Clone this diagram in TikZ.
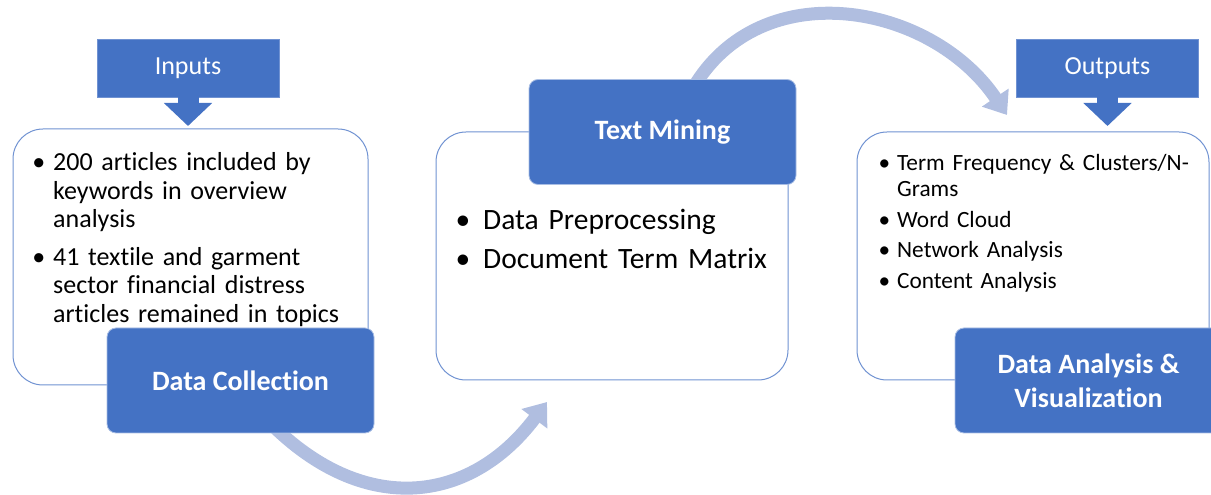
\documentclass[tikz,border=0pt]{standalone}
\usepackage{fontspec}
\setmainfont{Carlito}[Ligatures=NoCommon]
\usetikzlibrary{arrows.meta,backgrounds}
\definecolor{boxblue}{RGB}{68,114,196}
\definecolor{edgeblue}{RGB}{112,146,210}
\definecolor{arcblue}{RGB}{176,190,224}
\def\listbox{\node[draw=edgeblue, line width=1pt, fill=white, rounded corners=30pt, minimum width=352pt, minimum height=248pt]}
\def\stepnode{\node[fill=boxblue, draw=edgeblue!60!white, line width=0.8pt, rounded corners=9pt, minimum width=267pt, minimum height=105pt, text=white, align=center, font=\bfseries\fontsize{28}{34}\selectfont]}
\def\tagnode{\node[fill=boxblue, draw=edgeblue, line width=0.8pt, minimum width=182pt, minimum height=58pt, text=white, font=\fontsize{26}{30}\selectfont]}
\def\textnode{\node[anchor=north west, inner sep=0pt, text width=330pt]}
\def\drawarc{\draw[color=arcblue, line width=13pt, -{Triangle[width=31pt,length=21pt]}]}
\def\drawdown{\draw[color=boxblue, line width=21pt, -{Triangle[width=47pt,length=23pt]}]}
\def\bitem#1{\par\noindent\llap{\textbullet\hskip#1}}

\begin{document}
\begin{tikzpicture}[x=1pt,y=1pt]
\useasboundingbox (0,0) rectangle (1211,495);
\clip (0,0) rectangle (1211,495);
\listbox (inBox) at (190.5,238) [minimum width=355pt, minimum height=256pt] {};
\listbox (tmBox) at (612,239) {};
\listbox (outBox) at (1033,239) {};
\stepnode (dc) at (240.5,114.5) {Data Collection};
\stepnode (tm) at (662.5,363) {Text Mining};
\stepnode (da) at (1088.5,114.5) {Data Analysis \&\\Visualization};
\textnode[font=\fontsize{26}{28.5}\selectfont] (inText) at (53,362) {\setlength\parskip{9pt}%
\bitem{8pt}200 articles included by\newline keywords in overview\newline analysis
\bitem{8pt}41 textile and garment\newline sector financial distress\newline articles remained in topics};
\textnode[font=\fontsize{29.5}{32}\selectfont] (tmText) at (483,305) {\setlength\parskip{7pt}%
\bitem{13pt}Data Preprocessing
\bitem{13pt}Document Term Matrix};
\textnode[font=\fontsize{23.3}{26}\selectfont] (outText) at (897,355) {\setlength\parskip{4.5pt}%
\bitem{7pt}Term Frequency \& Clusters/N-\newline Grams
\bitem{7pt}Word Cloud
\bitem{7pt}Network Analysis
\bitem{7pt}Content Analysis};
\tagnode (inputs) at (188,427) {Inputs};
\tagnode (outputs) at (1107.5,427) {Outputs};
\coordinate (inTip) at (188,369);
\coordinate (outTip) at (1107.5,369);
\drawdown (inputs.south) -- (inTip);
\drawdown (outputs.south) -- (outTip);
\coordinate (tipA) at (547,93);
\coordinate (tipB) at (1007,380);
\begin{scope}[on background layer]
\drawarc ([xshift=30pt,yshift=10pt]dc.south) to[out=-45,in=233,looseness=1.2] (tipA);
\drawarc ([xshift=30pt,yshift=-10pt]tm.north) to[out=60,in=124,looseness=1.1] (tipB);
\end{scope}
\end{tikzpicture}
\end{document}
